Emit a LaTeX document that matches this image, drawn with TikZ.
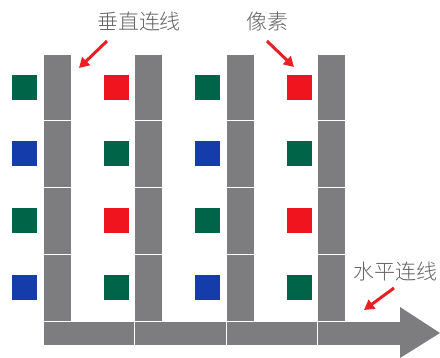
\documentclass[tikz,border=0pt]{standalone}
\usepackage{fontspec}
\newfontfamily\cjk{Noto Sans CJK SC Light}
\usetikzlibrary{arrows.meta}
\definecolor{pxgreen}{RGB}{0,100,72}
\definecolor{pxblue}{RGB}{20,60,170}
\definecolor{pxred}{RGB}{240,20,30}
\definecolor{bargray}{RGB}{125,125,128}
\definecolor{txtgray}{RGB}{100,100,100}
\definecolor{arrred}{RGB}{235,30,35}
\begin{document}
\begin{tikzpicture}[x=1pt,y=-1pt,
  px/.style={minimum width=25pt,minimum height=25pt,inner sep=0pt,outer sep=0pt},
  seg/.style={fill=bargray,draw=white,line width=1pt},
  lbl/.style={font=\cjk\fontsize{21}{21}\selectfont,text=txtgray,inner sep=0pt},
  redarr/.style={draw=arrred,line width=3pt,-{Triangle[length=10pt,width=11pt]}}]
\useasboundingbox (0,0) rectangle (440,357);
% vertical bar segments
\foreach \c/\x in {1/43,2/134,3/226,4/317}{
  \foreach \r/\ya/\yb in {1/54/120,2/120/187,3/187/254,4/254/321}{
    \draw[seg] (\x,\ya) rectangle ++(28,\yb-\ya);
  }
}
% horizontal bar segments
\foreach \xa/\xb in {43/134,134/226,226/317,317/402}{
  \draw[seg] (\xa,321) rectangle (\xb,345);
}
\fill[bargray] (400,307) -- (440,333) -- (400,358) -- cycle;
% pixels
\foreach \x/\ca/\cb in {24.5/pxgreen/pxblue,116/pxred/pxgreen,207.5/pxgreen/pxblue,299/pxred/pxgreen}{
  \node[px,fill=\ca] at (\x,87) {};
  \node[px,fill=\cb] at (\x,153.5) {};
  \node[px,fill=\ca] at (\x,220) {};
  \node[px,fill=\cb] at (\x,287) {};
}
% labels
\node[lbl] (lv) at (139,21) {垂直连线};
\node[lbl] (lp) at (267,21) {像素};
\node[lbl] (lh) at (395,272) {水平连线};
\coordinate (a1s) at (107,41);
\coordinate (a1e) at (79,68);
\coordinate (a2s) at (267,41);
\coordinate (a2e) at (294,67);
\coordinate (a3s) at (394,288);
\coordinate (a3e) at (364,310);
\draw[redarr] (a1s) -- (a1e);
\draw[redarr] (a2s) -- (a2e);
\draw[redarr] (a3s) -- (a3e);
\end{tikzpicture}
\end{document}
